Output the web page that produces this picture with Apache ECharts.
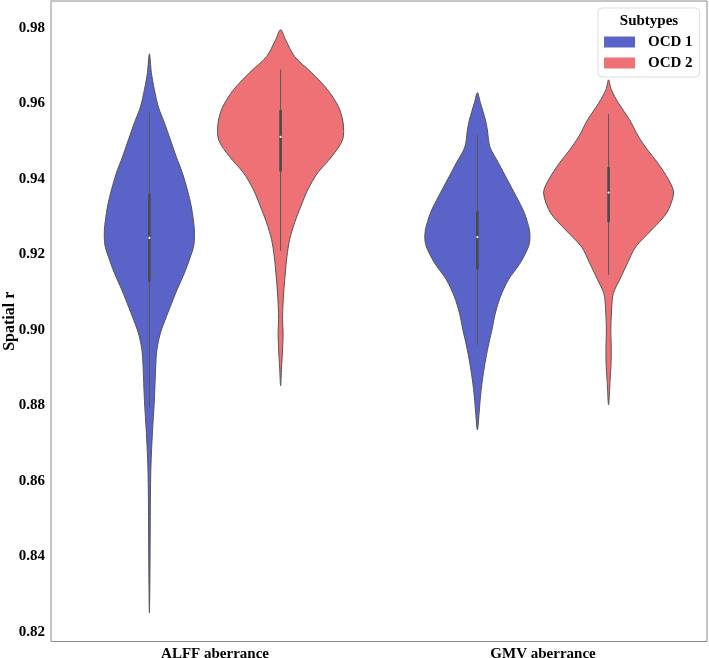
<!DOCTYPE html>
<html>
<head>
<meta charset="utf-8">
<script src="https://cdn.jsdelivr.net/npm/echarts@6/dist/echarts.min.js"></script>
<style>
html,body{margin:0;padding:0;background:#fff;}
#chart{width:709px;height:658px;}
</style>
</head>
<body>
<div id="chart"></div>
<script>
// ---- data ----
const categories = ['ALFF aberrance', 'GMV aberrance'];
const hueNames = ['OCD 1', 'OCD 2'];
const yTicks = [0.82, 0.84, 0.86, 0.88, 0.90, 0.92, 0.94, 0.96, 0.98];

// violin profiles: y value and relative density (half-width as share of the hue slot)
const alffOcd1Values = [0.9732,0.9682,0.9637,0.9591,0.9549,0.9504,0.9459,0.9416,0.9371,0.9326,0.9265,0.9225,0.9194,0.9151,0.9106,0.9080,0.9035,0.8992,0.8947,0.8902,0.8814,0.8727,0.8637,0.8549,0.8462,0.8372,0.8311,0.8250];
const alffOcd1Density = [0,0.03,0.076,0.137,0.229,0.32,0.41,0.503,0.579,0.64,0.686,0.678,0.625,0.534,0.42,0.36,0.259,0.168,0.114,0.096,0.076,0.046,0.023,0.015,0.012,0.009,0.006,0];

const alffOcd2Values = [0.9796,0.9769,0.9725,0.9682,0.9637,0.9591,0.9549,0.9504,0.9459,0.9416,0.9371,0.9326,0.9284,0.9239,0.9194,0.9151,0.9106,0.9061,0.9027,0.8992,0.8947,0.8902,0.8852];
const alffOcd2Density = [0,0.076,0.213,0.473,0.716,0.884,0.953,0.945,0.777,0.564,0.412,0.305,0.213,0.137,0.096,0.072,0.05,0.035,0.03,0.038,0.03,0.015,0];

const gmvOcd1Values = [0.9629,0.9602,0.9557,0.9530,0.9485,0.9443,0.9398,0.9353,0.9310,0.9265,0.9239,0.9220,0.9178,0.9133,0.9088,0.9045,0.9000,0.8955,0.8913,0.8867,0.8822,0.8788,0.8735];
const gmvOcd1Density = [0,0.046,0.122,0.152,0.191,0.32,0.457,0.595,0.716,0.793,0.8,0.777,0.655,0.473,0.351,0.274,0.221,0.163,0.117,0.076,0.046,0.03,0];

const gmvOcd2Values = [0.9663,0.9637,0.9602,0.9557,0.9512,0.9477,0.9443,0.9398,0.9363,0.9310,0.9265,0.9220,0.9178,0.9133,0.9106,0.9088,0.9045,0.9000,0.8955,0.8913,0.8867,0.8801];
const gmvOcd2Density = [0,0.041,0.148,0.32,0.457,0.595,0.747,0.915,0.991,0.884,0.655,0.412,0.29,0.168,0.091,0.061,0.043,0.034,0.04,0.038,0.023,0];

// inner box: [whisker low, q1, median, q3, whisker high]
const alffOcd1Box = [0.8796,0.9127,0.9244,0.9361,0.9576];
const alffOcd2Box = [0.9210,0.9420,0.9512,0.9583,0.9690];
const gmvOcd1Box = [0.8960,0.9161,0.9246,0.9314,0.9517];
const gmvOcd2Box = [0.9146,0.9286,0.9364,0.9432,0.9572];

// ---- styles ----
const colors = ['#5A64C8', '#EE7275'];
const serif = '"Liberation Serif", "DejaVu Serif", serif';

const ocd1 = {
  profiles: [{values: alffOcd1Values, density: alffOcd1Density}, {values: gmvOcd1Values, density: gmvOcd1Density}],
  boxes: [alffOcd1Box, gmvOcd1Box]
};
const ocd2 = {
  profiles: [{values: alffOcd2Values, density: alffOcd2Density}, {values: gmvOcd2Values, density: gmvOcd2Density}],
  boxes: [alffOcd2Box, gmvOcd2Box]
};

function makeRender(group, offset, color) {
  return function (params, api) {
    const i = params.dataIndex;
    const prof = group.profiles[i];
    const box = group.boxes[i];
    const band = api.size([1, 0])[0];
    const cx = api.coord([i, box[2]])[0] + offset * band;
    const half = 0.2 * band;
    const n = prof.values.length;
    const pts = [];
    for (let k = 0; k < n; k++) {
      const y = api.coord([i, prof.values[k]])[1];
      pts.push([cx + prof.density[k] * half, y]);
    }
    for (let k = n - 2; k >= 1; k--) {
      const y = api.coord([i, prof.values[k]])[1];
      pts.push([cx - prof.density[k] * half, y]);
    }
    const yl = api.coord([i, box[0]])[1];
    const y1 = api.coord([i, box[1]])[1];
    const ym = api.coord([i, box[2]])[1];
    const y3 = api.coord([i, box[3]])[1];
    const yh = api.coord([i, box[4]])[1];
    return {
      type: 'group',
      children: [
        {
          type: 'polygon',
          shape: {points: pts, smooth: 0.3},
          style: {fill: color, stroke: '#555555', lineWidth: 1}
        },
        {
          type: 'line',
          shape: {x1: cx, y1: yh, x2: cx, y2: yl},
          style: {stroke: '#555555', lineWidth: 1}
        },
        {
          type: 'line',
          shape: {x1: cx, y1: y3, x2: cx, y2: y1},
          style: {stroke: '#4a4a4a', lineWidth: 2.6}
        },
        {
          type: 'circle',
          shape: {cx: cx, cy: ym, r: 1.1},
          style: {fill: '#ffffff'}
        }
      ]
    };
  };
}

const chart = echarts.init(document.getElementById('chart'), null, {renderer: 'canvas'});
chart.setOption({
  backgroundColor: '#ffffff',
  animation: false,
  grid: {
    left: 51, right: 2, top: 1, bottom: 16.5,
    containLabel: false,
    outerBoundsMode: 'none',
    show: true, borderColor: '#8a8a8a', borderWidth: 1, backgroundColor: 'transparent'
  },
  xAxis: {
    type: 'category',
    data: categories,
    axisLine: {show: false},
    axisTick: {show: false},
    splitLine: {show: false},
    axisLabel: {margin: 5, fontFamily: serif, fontWeight: 'bold', fontSize: 15, color: '#000'}
  },
  yAxis: {
    type: 'value',
    min: 0.8174,
    max: 0.9872,
    name: 'Spatial r',
    nameLocation: 'middle',
    nameGap: 33,
    nameMoveOverlap: false,
    nameTextStyle: {fontFamily: serif, fontWeight: 'bold', fontSize: 16, color: '#000'},
    axisLine: {show: false},
    axisTick: {show: false},
    splitLine: {show: false},
    axisLabel: {
      customValues: yTicks,
      margin: 6,
      fontFamily: serif, fontWeight: 'bold', fontSize: 15, color: '#000',
      formatter: function (v) { return v.toFixed(2); }
    }
  },
  legend: {
    orient: 'vertical',
    left: 598, top: 8,
    padding: [26, 7, 6, 6],
    itemWidth: 31, itemHeight: 11, itemGap: 5,
    backgroundColor: '#ffffff',
    borderColor: '#dddddd', borderWidth: 1, borderRadius: 4,
    selectedMode: false,
    textStyle: {fontFamily: serif, fontWeight: 'bold', fontSize: 15, color: '#000', lineHeight: 16, padding: [0, 0, 0, 8]},
    data: [{name: hueNames[0], icon: 'rect'}, {name: hueNames[1], icon: 'rect'}]
  },
  graphic: [{
    type: 'text', x: 649, y: 21, z: 100,
    style: {text: 'Subtypes', textAlign: 'center', textVerticalAlign: 'middle',
      font: 'bold 15px ' + serif, fill: '#000'}
  }],
  series: [
    {
      name: hueNames[0], type: 'custom',
      itemStyle: {color: colors[0]},
      renderItem: makeRender(ocd1, -0.2, colors[0]),
      encode: {x: 0, y: 1},
      data: categories.map((c, i) => [i, ocd1.boxes[i][2]])
    },
    {
      name: hueNames[1], type: 'custom',
      itemStyle: {color: colors[1]},
      renderItem: makeRender(ocd2, 0.2, colors[1]),
      encode: {x: 0, y: 1},
      data: categories.map((c, i) => [i, ocd2.boxes[i][2]])
    }
  ]
});
</script>
</body>
</html>
